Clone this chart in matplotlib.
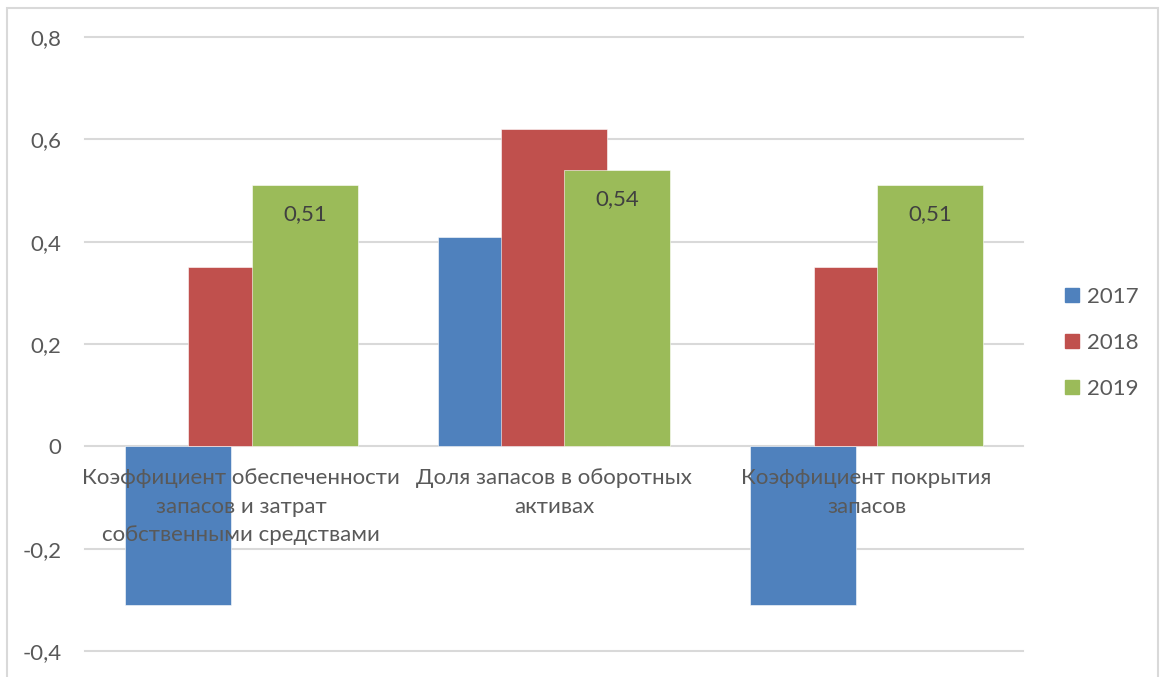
import matplotlib
matplotlib.use("Agg")
import matplotlib.pyplot as plt
from matplotlib.lines import Line2D
from matplotlib.patches import Rectangle
from matplotlib.ticker import FuncFormatter
import numpy as np

# Data
categories = [
    "Коэффициент обеспеченности\nзапасов и затрат\nсобственными средствами",
    "Доля запасов в оборотных\nактивах",
    "Коэффициент покрытия\nзапасов",
]
years = ["2017", "2018", "2019"]
values_2017 = [-0.31, 0.41, -0.31]
values_2018 = [0.35, 0.62, 0.35]
values_2019 = [0.51, 0.54, 0.51]
y_ticks = [-0.4, -0.2, 0, 0.2, 0.4, 0.6, 0.8]

series = [values_2017, values_2018, values_2019]
colors = ["#4F81BD", "#C0504D", "#9BBB59"]
text_color = "#595959"
grid_color = "#D9D9D9"
fs = 16

plt.rcParams["font.family"] = ["Lato", "DejaVu Sans"]
plt.rcParams["font.size"] = fs

W, H = 1160, 677
fig = plt.figure(figsize=(W / 100, H / 100), dpi=100)
ax = fig.add_axes([85 / W, (H - 651) / H, (1023 - 85) / W, (651 - 37) / H])

x = np.arange(len(categories))
bar_w = 0.339
step = 0.203
for i, (vals, col, yr) in enumerate(zip(series, colors, years)):
    pos = x + (i - 1) * step
    ax.bar(pos, vals, width=bar_w, color=col, edgecolor="#FFFFFF",
           linewidth=0.4, zorder=2 + i, label=yr)
    if yr == "2019":
        for xp, v in zip(pos, vals):
            ax.annotate(f"{v:.2f}".replace(".", ","), (xp, v),
                        xytext=(0, -29), textcoords="offset pixels",
                        ha="center", va="center", color="#404040",
                        fontsize=fs, zorder=10)

ax.set_xlim(-0.5, 2.5)
ax.set_ylim(-0.4, 0.8)
ax.set_yticks(y_ticks)
ax.yaxis.set_major_formatter(FuncFormatter(
    lambda v, p: "0" if abs(v) < 1e-9 else f"{v:.1f}".replace(".", ",")))
ax.tick_params(axis="y", length=0, pad=17, colors=text_color, labelsize=fs)
ax.set_xticks([])
for s in ax.spines.values():
    s.set_visible(False)

for t in y_ticks:
    ax.axhline(t, color=grid_color, linewidth=1.5, zorder=1, clip_on=False)

# Category labels sit just below the zero line, over the bars
for xi, lab in zip(x, categories):
    ax.annotate(lab, (xi, 0), xytext=(0, -22), textcoords="offset pixels",
                ha="center", va="top", color=text_color, fontsize=fs,
                linespacing=1.52, zorder=10)

handles = [Line2D([], [], marker="s", linestyle="none", markersize=10,
                  markerfacecolor=c, markeredgecolor=c) for c in colors]
fig.legend(handles, years, loc="center left",
           bbox_to_anchor=(1043 / W, 1 - 343 / H), frameon=False,
           handlelength=0.8, handletextpad=0.3, labelspacing=1.17,
           labelcolor=text_color, fontsize=fs)

# Chart frame
fig.patches.append(Rectangle((7 / W, -0.01), (1158 - 7) / W, 1 - 8 / H + 0.01,
                             transform=fig.transFigure, fill=False,
                             edgecolor="#D9D9D9", linewidth=1.5))

fig.savefig("out.png", dpi=100)
